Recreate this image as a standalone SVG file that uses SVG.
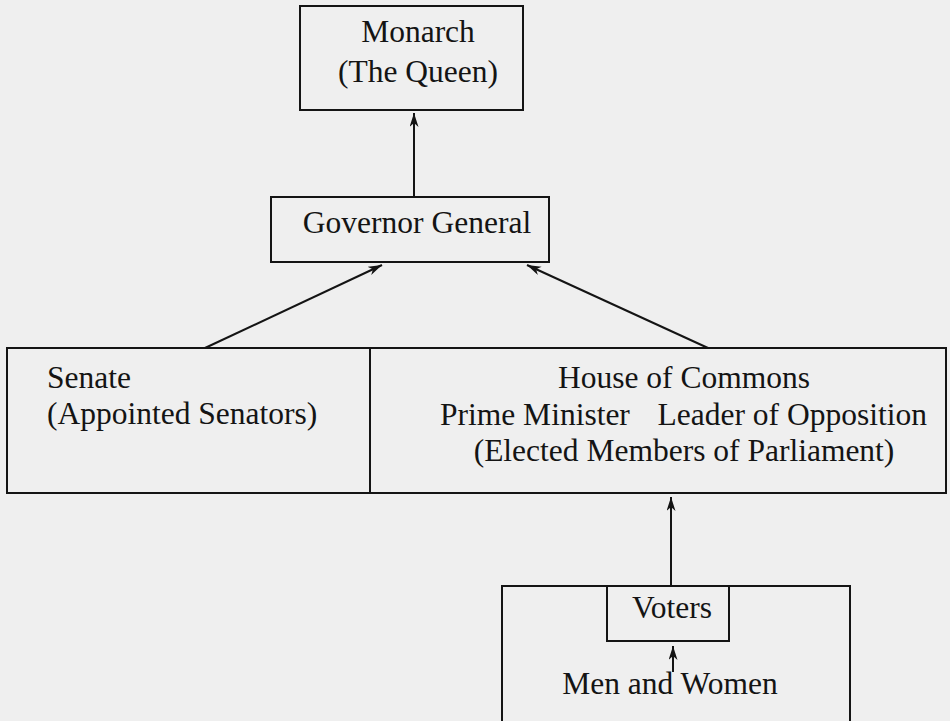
<svg xmlns="http://www.w3.org/2000/svg" width="950" height="721" viewBox="0 0 950 721">
  <style>
    .box { fill: none; stroke: #141414; stroke-width: 2; }
    .lbl { font-family: "Liberation Serif", "Times New Roman", serif; font-size: 31.5px; fill: #141414; }
    .mid { text-anchor: middle; }
    .edge { stroke: #141414; stroke-width: 2; fill: none; marker-end: url(#arrow); }
  </style>
  <defs>
    <marker id="arrow" markerUnits="userSpaceOnUse" markerWidth="15" markerHeight="10" refX="14" refY="4.5" orient="auto">
      <path d="M0,0 L14,4.5 L0,9 L4,4.5 Z" fill="#141414"/>
    </marker>
  </defs>

  <rect width="950" height="721" fill="#efefef"/>

  <g id="monarch">
    <rect class="box" x="300" y="6" width="223" height="104"/>
    <text class="lbl mid" x="418" y="42">Monarch</text>
    <text class="lbl mid" x="418" y="82">(The Queen)</text>
  </g>

  <g id="governor-general">
    <rect class="box" x="271" y="197" width="278" height="65"/>
    <text class="lbl mid" x="417" y="233">Governor General</text>
  </g>

  <g id="parliament">
    <rect class="box" x="7" y="348" width="939" height="145"/>
    <line class="box" x1="370" y1="348" x2="370" y2="493"/>
  </g>

  <g id="senate">
    <text class="lbl" x="47" y="388">Senate</text>
    <text class="lbl" x="47" y="424">(Appointed Senators)</text>
  </g>

  <g id="house-of-commons">
    <text class="lbl mid" x="684" y="388">House of Commons</text>
    <text class="lbl" x="440" y="425">Prime Minister</text>
    <text class="lbl" x="927" y="425" text-anchor="end">Leader of Opposition</text>
    <text class="lbl mid" x="684" y="461">(Elected Members of Parliament)</text>
  </g>

  <g id="electorate">
    <rect class="box" x="502" y="586" width="348" height="150"/>
    <text class="lbl mid" x="670" y="694">Men and Women</text>
  </g>

  <g id="voters">
    <rect class="box" x="607" y="586" width="122" height="55"/>
    <text class="lbl mid" x="672" y="618">Voters</text>
  </g>

  <g id="connectors">
    <line class="edge" x1="414" y1="197" x2="414" y2="113"/>
    <line class="edge" x1="205" y1="348" x2="382" y2="265"/>
    <line class="edge" x1="708" y1="348" x2="527" y2="265"/>
    <line class="edge" x1="671" y1="586" x2="671" y2="497"/>
    <line class="edge" x1="673" y1="672" x2="673" y2="646"/>
  </g>
</svg>
